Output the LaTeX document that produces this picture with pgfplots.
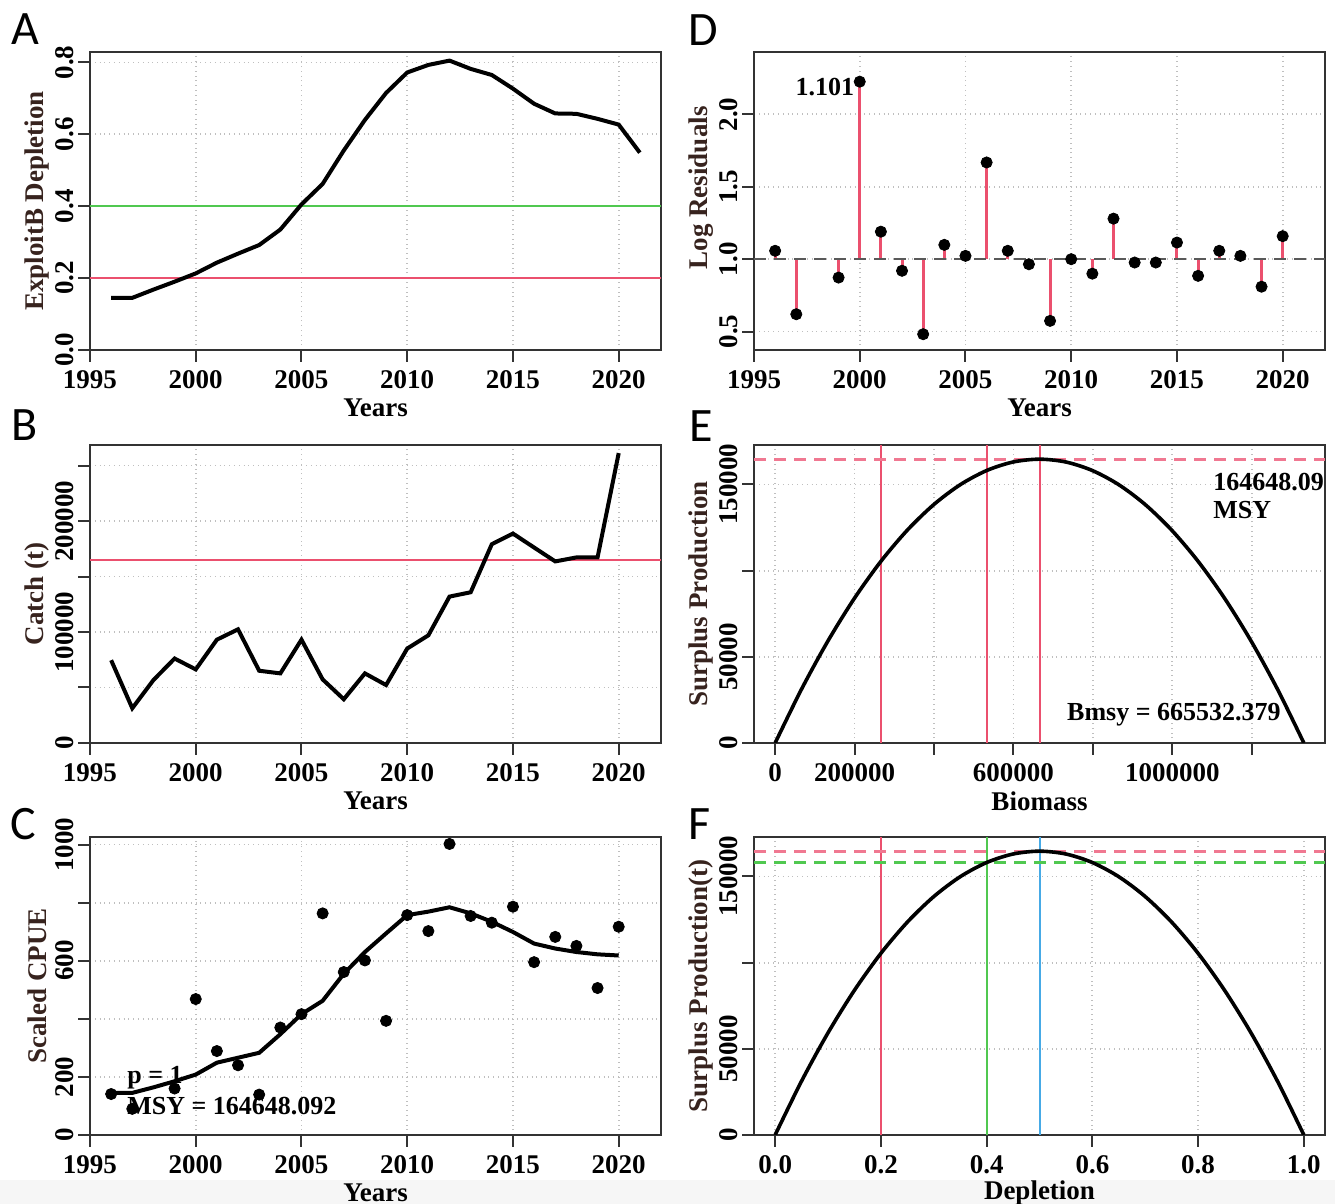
\documentclass[border=0pt]{standalone}
\usepackage{fontspec}
\setmainfont{Liberation Serif}
\newfontfamily\letterfont{Carlito}
\usepackage{pgfplots}
\pgfplotsset{compat=1.18}
\definecolor{myred}{RGB}{235,80,110}
\definecolor{mypink}{RGB}{240,120,145}
\definecolor{mygreen}{RGB}{80,200,80}
\definecolor{myblue}{RGB}{70,170,230}
\definecolor{labcol}{RGB}{55,35,30}
\tikzset{txt/.style={font=\fontsize{13}{15}\selectfont\bfseries}}
\pgfplotsset{
 panel/.style={
  scale only axis, width=285.5pt, height=149pt, anchor=south west,
  axis line style={line width=1.1pt, black!80},
  tick align=outside, tick pos=left, major tick length=6pt,
  tick style={line width=1pt, black!80},
  scaled ticks=false,
  every tick label/.append style={font=\fontsize{13.5}{15}\selectfont\bfseries},
  yticklabel style={rotate=90, anchor=south, inner sep=1pt},
  yticklabel shift=1pt,
  xticklabel style={inner sep=1pt},
  xticklabel shift=3pt,
  every axis x label/.style={at={(axis description cs:0.5,-0.195)}, anchor=center, font=\fontsize{13.5}{15}\selectfont\bfseries},
  every axis y label/.style={at={(axis description cs:-0.093,0.5)}, rotate=90, anchor=center, font=\fontsize{13.5}{15}\selectfont\bfseries, text=labcol},
  grid=major, major grid style={dotted, line width=0.9pt, black!25},
 },
 years/.style={xmin=1995, xmax=2022, xtick={1995,2000,2005,2010,2015,2020},
  xticklabels={1995,2000,2005,2010,2015,2020}, xlabel={Years}},
}
\begin{document}
\begin{tikzpicture}
\useasboundingbox (0,0) rectangle (667.5pt,602pt);
\fill[gray!7] (0,0) rectangle (667.5pt,12pt);
% ---------------- A
\begin{axis}[panel, years, at={(45pt,427pt)}, ymin=0, ymax=0.829,
  ytick={0,0.2,0.4,0.6,0.8}, yticklabels={0.0,0.2,0.4,0.6,0.8},
  ylabel={ExploitB Depletion}]
\addplot[mygreen, line width=1pt] coordinates {(1995,0.4)(2022,0.4)};
\addplot[myred, line width=1pt] coordinates {(1995,0.2)(2022,0.2)};
\addplot[black, line width=2pt] coordinates {(1996,0.145)(1997,0.145)(1998,0.168)(1999,0.19)(2000,0.213)(2001,0.243)(2002,0.268)(2003,0.292)(2004,0.335)(2005,0.405)(2006,0.462)(2007,0.555)(2008,0.640)(2009,0.715)(2010,0.772)(2011,0.793)(2012,0.805)(2013,0.782)(2014,0.765)(2015,0.727)(2016,0.685)(2017,0.658)(2018,0.657)(2019,0.643)(2020,0.627)(2021,0.549)};
\end{axis}
% ---------------- B
\begin{axis}[panel, years, at={(45pt,230.5pt)}, ymin=0, ymax=268500,
  ytick={0,50000,100000,150000,200000,250000}, yticklabels={0,,100000,,200000,},
  ylabel={Catch (t)}]
\addplot[myred, line width=1pt] coordinates {(1995,164648)(2022,164648)};
\addplot[black, line width=2pt] coordinates {(1996,74600)(1997,31300)(1998,56700)(1999,76100)(2000,66300)(2001,93100)(2002,102400)(2003,65100)(2004,62700)(2005,93100)(2006,57300)(2007,39400)(2008,62700)(2009,52200)(2010,85100)(2011,97000)(2012,131900)(2013,135800)(2014,179100)(2015,188700)(2016,176100)(2017,163600)(2018,167200)(2019,167200)(2020,261200)};
\end{axis}
% ---------------- C
\begin{axis}[panel, years, at={(45pt,34.5pt)}, ymin=0, ymax=1026,
  ytick={0,200,400,600,800,1000}, yticklabels={0,200,,600,,1000},
  ylabel={Scaled CPUE}]
\addplot[black, line width=2pt] coordinates {(1996,145)(1997,145)(1998,164)(1999,185)(2000,208)(2001,249)(2002,266)(2003,283)(2004,347)(2005,416)(2006,462)(2007,555)(2008,630)(2009,694)(2010,757)(2011,769)(2012,784)(2013,763)(2014,734)(2015,699)(2016,659)(2017,642)(2018,630)(2019,622)(2020,618)};
\addplot[only marks, mark=*, mark size=2.8pt, black] coordinates {(1996,141)(1997,90)(1999,160)(2000,468)(2001,289)(2002,240)(2003,139)(2004,370)(2005,416)(2006,763)(2007,561)(2008,601)(2009,393)(2010,757)(2011,702)(2012,1002)(2013,754)(2014,731)(2015,786)(2016,595)(2017,682)(2018,651)(2019,506)(2020,717)};
\node[txt, anchor=west, inner sep=0pt] at (axis cs:1996.75,196) {p = 1};
\node[txt, anchor=west, inner sep=0pt] at (axis cs:1996.75,98) {MSY = 164648.092};
\end{axis}
% ---------------- D
\begin{axis}[panel, years, at={(377pt,427pt)}, ymin=0.373, ymax=2.431,
  ytick={0.5,1,1.5,2}, yticklabels={0.5,1.0,1.5,2.0},
  ylabel={Log Residuals}, ylabel style={at={(axis description cs:-0.093,0.544)}},
  unbounded coords=jump]
\addplot[myred, line width=1.5pt] coordinates {
(1996,1)(1996,1.058)(1996,nan)
(1997,1)(1997,0.62)(1997,nan)
(1999,1)(1999,0.873)(1999,nan)
(2000,1)(2000,2.226)(2000,nan)
(2001,1)(2001,1.19)(2001,nan)
(2002,1)(2002,0.92)(2002,nan)
(2003,1)(2003,0.482)(2003,nan)
(2004,1)(2004,1.099)(2004,nan)
(2005,1)(2005,1.023)(2005,nan)
(2006,1)(2006,1.668)(2006,nan)
(2007,1)(2007,1.058)(2007,nan)
(2008,1)(2008,0.965)(2008,nan)
(2009,1)(2009,0.574)(2009,nan)
(2011,1)(2011,0.90)(2011,nan)
(2012,1)(2012,1.28)(2012,nan)
(2013,1)(2013,0.977)(2013,nan)
(2014,1)(2014,0.977)(2014,nan)
(2015,1)(2015,1.115)(2015,nan)
(2016,1)(2016,0.885)(2016,nan)
(2017,1)(2017,1.058)(2017,nan)
(2018,1)(2018,1.023)(2018,nan)
(2019,1)(2019,0.81)(2019,nan)
(2020,1)(2020,1.159)};
\addplot[black!65, line width=1.3pt, dash pattern=on 6pt off 4pt] coordinates {(1995,1)(2022,1)};
\addplot[only marks, mark=*, mark size=2.8pt, black] coordinates {(1996,1.058)(1997,0.62)(1999,0.873)(2000,2.226)(2001,1.19)(2002,0.92)(2003,0.482)(2004,1.099)(2005,1.023)(2006,1.668)(2007,1.058)(2008,0.965)(2009,0.574)(2010,1.0)(2011,0.90)(2012,1.28)(2013,0.977)(2014,0.977)(2015,1.115)(2016,0.885)(2017,1.058)(2018,1.023)(2019,0.81)(2020,1.159)};
\node[txt, anchor=east, inner sep=0pt] at (axis cs:1999.75,2.19) {1.101};
\end{axis}
% ---------------- E
\begin{axis}[panel, at={(377pt,230.5pt)}, xmin=-53242, xmax=1384307, ymin=0, ymax=172880,
  xtick={0,200000,400000,600000,800000,1000000,1200000}, xticklabels={0,200000,,600000,,1000000,},
  ytick={0,50000,100000,150000}, yticklabels={0,50000,,150000},
  xlabel={Biomass}, ylabel={Surplus Production}]
\addplot[myred, line width=1pt] coordinates {(266213,0)(266213,172880)};
\addplot[myred, line width=1pt] coordinates {(532426,0)(532426,172880)};
\addplot[myred, line width=1pt] coordinates {(665532,0)(665532,172880)};
\addplot[mypink, line width=1.5pt, dash pattern=on 6pt off 4pt] coordinates {(-53242,164648)(1384307,164648)};
\addplot[black, line width=1.8pt, smooth] coordinates {(0,0)(66553,31283)(133106,59273)(199660,83970)(266213,105375)(332766,123486)(399319,138304)(465873,149830)(532426,158062)(598979,163002)(665532,164648)(732086,163002)(798639,158062)(865192,149830)(931745,138304)(998299,123486)(1064852,105375)(1131405,83970)(1197958,59273)(1264512,31283)(1331065,0)};
\node[txt, anchor=west, inner sep=0pt] at (axis cs:1102000,151500) {164648.09};
\node[txt, anchor=west, inner sep=0pt] at (axis cs:1102000,135300) {MSY};
\node[txt, inner sep=0pt] at (axis cs:1004000,16400) {Bmsy = 665532.379};
\end{axis}
% ---------------- F
\begin{axis}[panel, at={(377pt,34.5pt)}, xmin=-0.04, xmax=1.04, ymin=0, ymax=172880,
  xtick={0,0.2,0.4,0.6,0.8,1}, xticklabels={0.0,0.2,0.4,0.6,0.8,1.0},
  ytick={0,50000,100000,150000}, yticklabels={0,50000,,150000},
  xlabel={Depletion}, ylabel={Surplus Production(t)}]
\addplot[myred, line width=1pt] coordinates {(0.2,0)(0.2,172880)};
\addplot[mygreen, line width=1pt] coordinates {(0.4,0)(0.4,172880)};
\addplot[myblue, line width=1pt] coordinates {(0.5,0)(0.5,172880)};
\addplot[mypink, line width=1.5pt, dash pattern=on 6pt off 4pt] coordinates {(-0.04,164648)(1.04,164648)};
\addplot[mygreen, line width=1.5pt, dash pattern=on 6pt off 4pt] coordinates {(-0.04,158062)(1.04,158062)};
\addplot[black, line width=1.8pt, smooth] coordinates {(0,0)(0.05,31283)(0.1,59273)(0.15,83970)(0.2,105375)(0.25,123486)(0.3,138304)(0.35,149830)(0.4,158062)(0.45,163002)(0.5,164648)(0.55,163002)(0.6,158062)(0.65,149830)(0.7,138304)(0.75,123486)(0.8,105375)(0.85,83970)(0.9,59273)(0.95,31283)(1,0)};
\end{axis}
% panel letters
\begin{scope}[every node/.style={font=\letterfont\fontsize{24}{24}\selectfont, inner sep=0pt}]
\node at (12.5pt,587.5pt) {A};
\node at (12.5pt,389.5pt) {B};
\node at (11.5pt,190pt) {C};
\node at (351.5pt,587pt) {D};
\node at (350.5pt,389pt) {E};
\node at (350pt,190pt) {F};
\end{scope}
\end{tikzpicture}
\end{document}
